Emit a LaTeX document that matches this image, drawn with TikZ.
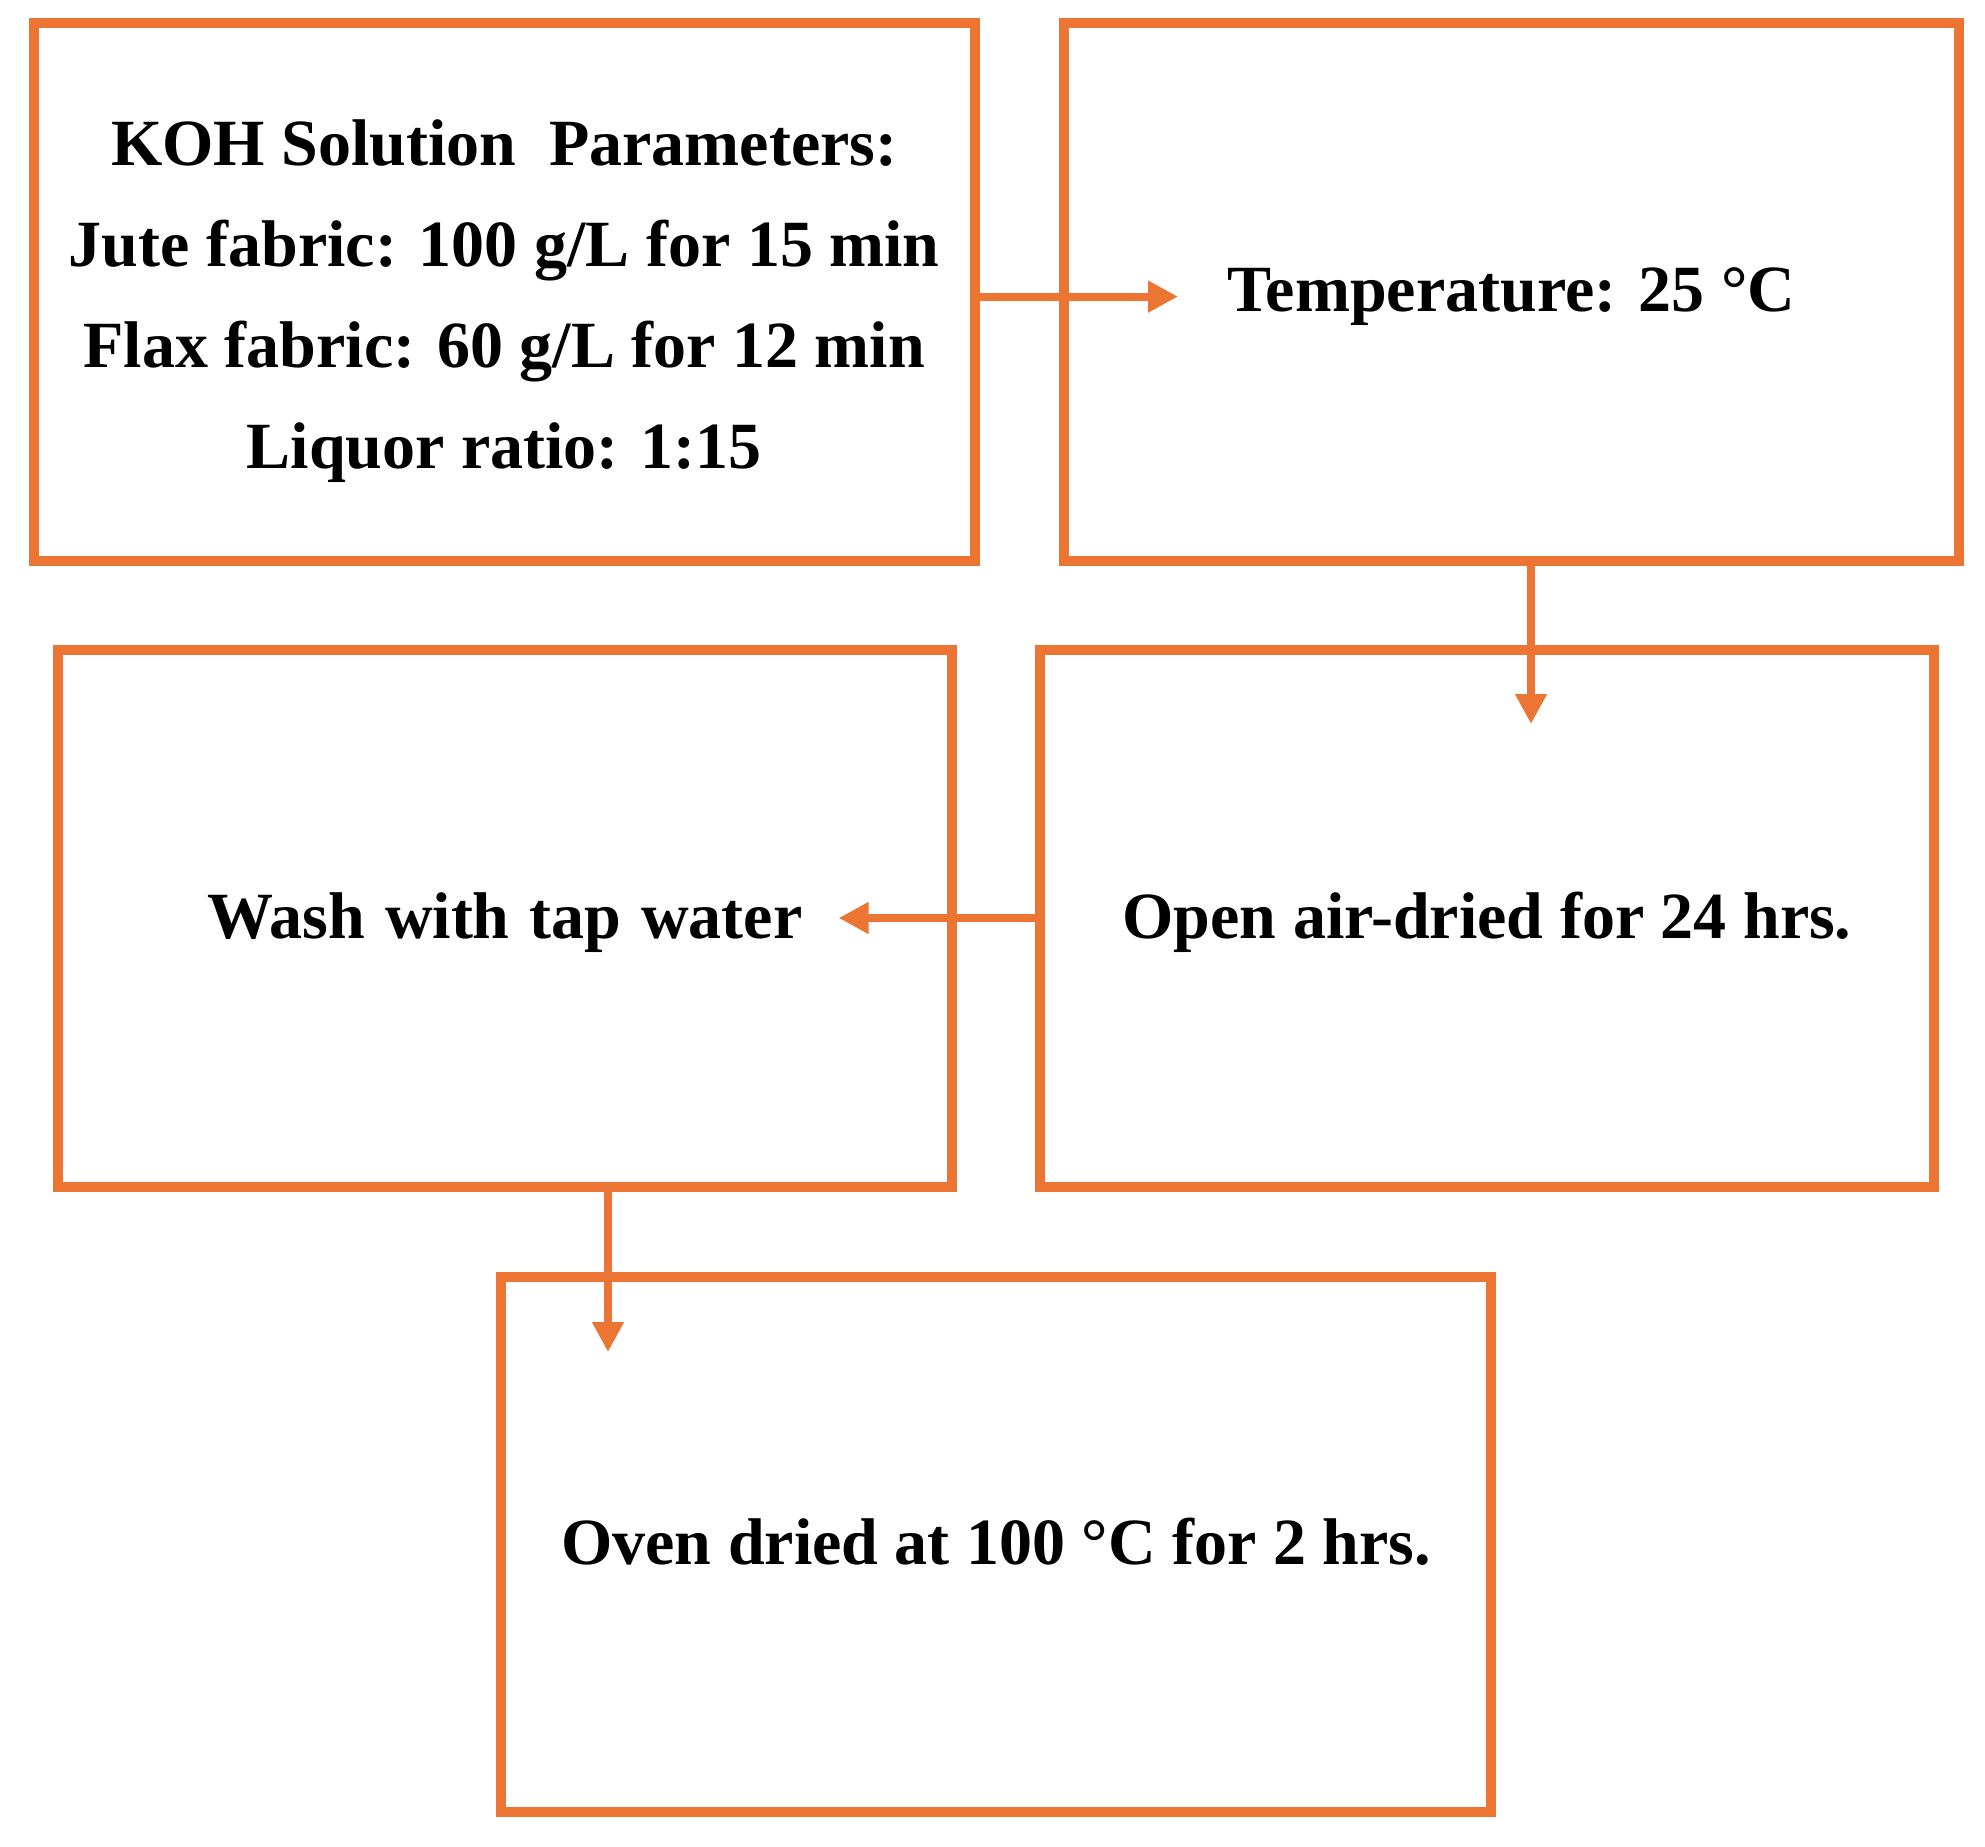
\documentclass[tikz,border=0pt]{standalone}
\usepackage{fontspec}
\setmainfont{Liberation Serif}
\usetikzlibrary{arrows.meta}
\definecolor{boxorange}{RGB}{237,117,52}
\begin{document}
\begin{tikzpicture}[x=1pt,y=-1pt,
  box/.style={draw=boxorange,line width=10pt,rectangle,inner sep=0pt,outer sep=0pt,align=center,
    text height=45pt,text depth=5pt,
    font=\bfseries\fontsize{66}{100}\selectfont},
  txt/.style={inner sep=0pt,outer sep=0pt,align=center,font=\bfseries\fontsize{66}{101}\selectfont},
  conn/.style={draw=boxorange,line width=8pt,-{Triangle[length=30pt,width=30pt]}}]
\useasboundingbox (0,0) rectangle (1985,1846);
\node[box,minimum width=941.5pt,minimum height=537.6pt] (b1) at (504.25,291.8) {};
\node[txt,yshift=-9pt] (b1t) at (b1.center)
  {KOH Solution\ \ Parameters:\\Jute fabric: 100 g/L for 15 min\\Flax fabric: 60 g/L for 12 min\\Liquor ratio: 1:15};
\node[box,minimum width=895pt,minimum height=537.6pt] (b2) at (1511.5,291.8) {Temperature: 25 °C};
\node[box,minimum width=894pt,minimum height=537pt] (b3) at (505,918.5) {Wash\hspace{20pt}with\hspace{20pt}tap\hspace{20pt}water};
\node[box,minimum width=894pt,minimum height=537pt] (b4) at (1487,918.5) {Open air-dried for 24 hrs.};
\node[box,minimum width=990pt,minimum height=535pt] (b5) at (996,1544.5) {Oven dried at 100 °C for 2 hrs.};
\coordinate (t1) at (1178,296.6);
\coordinate (t2) at (1531,724);
\coordinate (t3) at (838.6,918);
\coordinate (t4) at (608,1352);
\draw[conn] (b1.east |- t1) -- (t1);
\draw[conn] (t2 |- b2.south) -- (t2);
\draw[conn] (b4.west |- t3) -- (t3);
\draw[conn] (t4 |- b3.south) -- (t4);
\end{tikzpicture}
\end{document}
